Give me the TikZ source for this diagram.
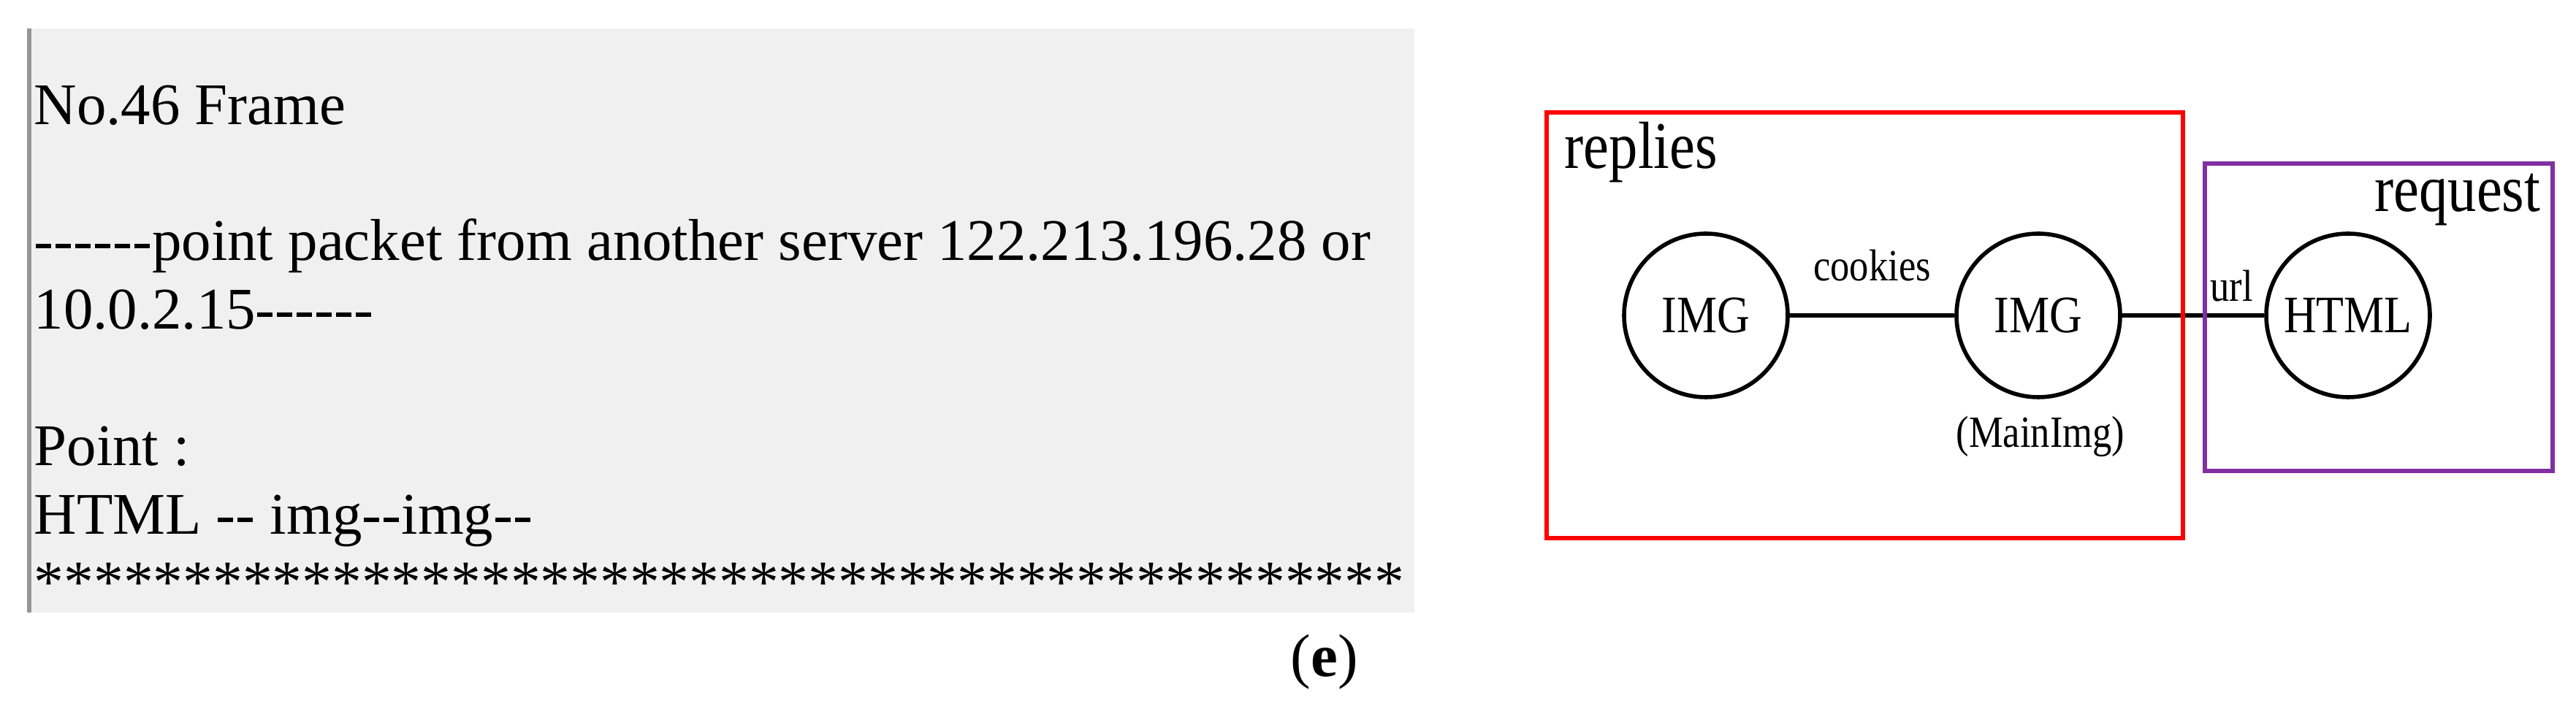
\documentclass[tikz,border=0pt]{standalone}
\usepackage{fontspec}
\setmainfont{Liberation Serif}
\newfontfamily\narrowfont{Liberation Serif}[FakeStretch=0.86]

\definecolor{panelgray}{RGB}{240,240,240}
\definecolor{edgegray}{RGB}{150,150,150}
\definecolor{reqpurple}{RGB}{128,48,160}

\tikzset{
  frametext/.style={anchor=base west, inner sep=0, font=\fontsize{23}{26}\selectfont},
  boxlabel/.style={inner sep=0, font=\narrowfont\fontsize{26}{30}\selectfont},
  res/.style={draw, circle, line width=1.6pt, minimum size=2.24cm, inner sep=0,
    font=\narrowfont\fontsize{20.5}{24}\selectfont},
  smalltxt/.style={inner sep=0, font=\narrowfont\fontsize{17.4}{20}\selectfont},
  link/.style={line width=1.8pt}
}

\begin{document}
\begin{tikzpicture}
	\useasboundingbox (0,0) rectangle (35.26,9.82);

	% captured frame text
	\fill[panelgray] (0.38,1.43) rectangle (19.36,9.43);
	\draw[edgegray, line width=1.7pt] (0.40,1.43) -- (0.40,9.43);
	\node[frametext] (l1) at (0.46,8.11) {No.46 Frame};
	\node[frametext] (l2) at (0.46,6.25) {-{}-{}-{}-{}-{}-point packet from another server 122.213.196.28 or};
	\node[frametext] (l3) at (0.46,5.31) {10.0.2.15-{}-{}-{}-{}-{}-};
	\node[frametext] (l4) at (0.46,3.44) {Point :};
	\node[frametext] (l5) at (0.46,2.50) {HTML -{}- img-{}-img-{}-};
	\node[frametext, font=\fontsize{23.2}{26}\selectfont] (l6) at (0.46,1.57) {**********************************************};
	\node[anchor=base, inner sep=0, font=\fontsize{23.6}{28}\selectfont] (cap) at (18.13,0.55) {(\textbf{e})};

	% request graph
	\node[res] (img1) at (23.35,5.5) {IMG};
	\node[res] (img2) at (27.90,5.5) {IMG};
	\node[res] (html) at (32.14,5.5) {HTML};
	\node[smalltxt, anchor=base] (mainimg) at (27.93,3.69) {(MainImg)};
	\draw[link] (img1) -- node[smalltxt, above=0.44cm] (cookies) {cookies} (img2);
	\draw[link] (img2) -- node[smalltxt, pos=0.77, above=0.16cm] (url) {url} (html);

	\draw[red, line width=1.6pt] (21.17,2.45) rectangle (29.88,8.28);
	\draw[reqpurple, line width=1.6pt] (30.18,3.37) rectangle (34.94,7.58);
	\node[boxlabel, anchor=base west] (replies) at (21.41,7.51) {replies};
	\node[boxlabel, anchor=base east] (request) at (34.78,6.92) {request};
\end{tikzpicture}
\end{document}
